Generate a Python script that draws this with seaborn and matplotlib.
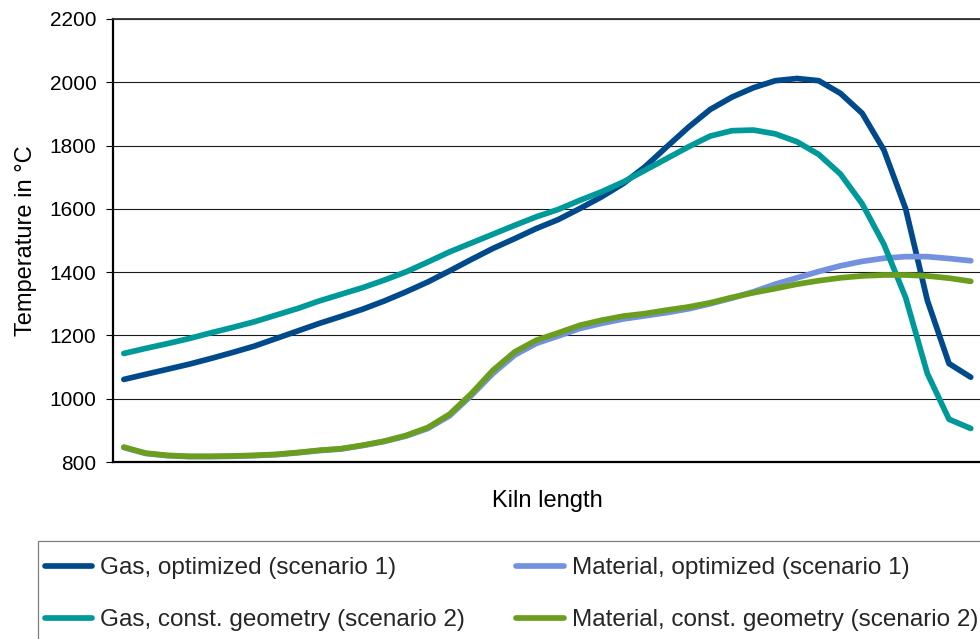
import matplotlib
matplotlib.use("Agg")
import matplotlib.pyplot as plt
from matplotlib.lines import Line2D
from matplotlib.patches import Rectangle
import pandas as pd
import seaborn as sns

# Positions along the kiln (evenly spaced sample points)
position = list(range(40))

# Temperatures in °C
gas_optimized = [
    1061, 1077, 1093, 1109, 1127, 1146, 1166, 1190, 1214, 1238,
    1260, 1283, 1309, 1338, 1369, 1404, 1440, 1475, 1506, 1538,
    1566, 1601, 1638, 1680, 1733, 1796, 1858, 1914, 1953, 1983,
    2005, 2012, 2005, 1965, 1902, 1786, 1601, 1311, 1111, 1068,
]
material_optimized = [
    846, 827, 820, 817, 817, 818, 820, 823, 829, 836,
    841, 852, 865, 882, 906, 946, 1010, 1080, 1138, 1175,
    1198, 1222, 1238, 1252, 1262, 1272, 1284, 1300, 1318, 1338,
    1362, 1382, 1402, 1420, 1434, 1444, 1449, 1449, 1443, 1436,
]
gas_const_geometry = [
    1143, 1159, 1174, 1190, 1208, 1225, 1243, 1264, 1285, 1309,
    1330, 1351, 1375, 1401, 1432, 1464, 1492, 1520, 1548, 1575,
    1598, 1627, 1654, 1685, 1722, 1759, 1796, 1830, 1847, 1849,
    1837, 1812, 1772, 1710, 1616, 1488, 1320, 1080, 935, 906,
]
material_const_geometry = [
    847, 828, 821, 818, 818, 819, 821, 824, 830, 837,
    842, 853, 866, 884, 909, 951, 1016, 1090, 1148, 1185,
    1208, 1232, 1248, 1261, 1269, 1280, 1290, 1303, 1320, 1335,
    1348, 1362, 1373, 1382, 1388, 1391, 1391, 1388, 1381, 1371,
]

series_names = [
    "Gas, optimized (scenario 1)",
    "Material, optimized (scenario 1)",
    "Gas, const. geometry (scenario 2)",
    "Material, const. geometry (scenario 2)",
]
series_colors = ["#004a8c", "#7391de", "#009999", "#6b9e1f"]
y_ticks = [800, 1000, 1200, 1400, 1600, 1800, 2000, 2200]

sns.set_style("white")
plt.rcParams["font.family"] = ["Liberation Sans", "DejaVu Sans"]

frames = []
for name, values in zip(series_names, [gas_optimized, material_optimized,
                                        gas_const_geometry, material_const_geometry]):
    frames.append(pd.DataFrame({"position": position, "temperature": values, "series": name}))
df = pd.concat(frames, ignore_index=True)

W, H = 980, 639
fig = plt.figure(figsize=(W / 100, H / 100), dpi=100)
ax = fig.add_axes([113 / W, (H - 462) / H, 868.6 / W, 443 / H])

sns.lineplot(
    data=df, x="position", y="temperature", hue="series",
    hue_order=series_names, palette=series_colors,
    linewidth=4.1, errorbar=None, legend=False, ax=ax, sort=False,
)
for ln in ax.lines:
    ln.set_solid_capstyle("round")
    ln.set_solid_joinstyle("round")

ax.set_xlim(-0.5, 39.5)
ax.set_ylim(800, 2200)
ax.set_xticks([])
ax.set_yticks(y_ticks)
ax.tick_params(axis="y", which="major", left=True, direction="out",
               length=5, width=0.8, color="black", labelsize=15, pad=7,
               labelcolor="black")
ax.yaxis.grid(True, color="#1a1a1a", linewidth=0.8)
ax.xaxis.grid(False)
ax.set_axisbelow(True)

for side in ("left", "bottom"):
    ax.spines[side].set_color("black")
    ax.spines[side].set_linewidth(1.6)
ax.spines["top"].set_color("#333333")
ax.spines["top"].set_linewidth(1.3)
ax.spines["right"].set_color("#333333")
ax.spines["right"].set_linewidth(1.0)

ax.set_xlabel("Kiln length", fontsize=17, labelpad=20, color="black")
ax.set_ylabel("Temperature in °C", fontsize=17, labelpad=9, color="black")

# Legend box along the bottom of the figure
fig.add_artist(Rectangle((38 / W, -0.2), 1.2, (H - 541) / H + 0.2,
                         transform=fig.transFigure, fill=False,
                         edgecolor="#7f7f7f", linewidth=0.9))

handles = [Line2D([], [], color=c, linewidth=4.1, solid_capstyle="round")
           for c in series_colors]
order = [0, 2, 1, 3]
fig.legend(
    [handles[i] for i in order], [series_names[i] for i in order],
    ncol=2, loc="upper left", bbox_to_anchor=(44.8 / W, (H - 557) / H),
    frameon=False, fontsize=17.5, handlelength=1.95, handletextpad=0.34,
    columnspacing=2.1, labelspacing=1.24, borderpad=0, borderaxespad=0,
)

fig.savefig("out.png", dpi=100)
